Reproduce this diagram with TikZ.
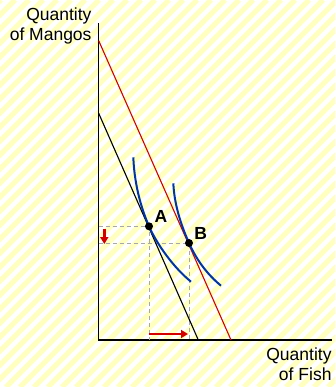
\documentclass[tikz,border=0pt]{standalone}
\usepackage{fontspec}
\setmainfont{Liberation Sans}
\usetikzlibrary{arrows.meta}
\definecolor{stripe}{HTML}{FFFFC0}
\definecolor{icblue}{HTML}{0035A5}
\definecolor{budred}{HTML}{D40000}
\definecolor{dashgray}{HTML}{A8A8A8}
\begin{document}
\begin{tikzpicture}[x=1pt,y=-1pt,
  lbl/.style={font=\fontsize{17.5}{20}\selectfont, inner sep=0pt, anchor=base east},
  ptlbl/.style={font=\fontsize{17.5}{20}\selectfont\bfseries, inner sep=0pt},
  axis/.style={line width=1.4pt, black},
  budget/.style={line width=1.1pt},
  icurve/.style={line width=2pt, icblue},
  guide/.style={line width=0.9pt, dashgray, dash pattern=on 4pt off 3pt},
  movearrow/.style={line width=2.8pt, budred, -{Triangle[length=7pt,width=8pt]}},
  dot/.style={circle, fill=black, inner sep=0pt, minimum size=8pt}]
\useasboundingbox (0,0) rectangle (335,387);
\begin{scope}
\clip (0,0) rectangle (335,387);
\fill[white] (0,0) rectangle (335,387);
\foreach \k in {-400,-386,...,340} {
  \draw[stripe, line width=5pt] (\k,387) -- (\k+387,0);
}
\end{scope}
% coordinates
\coordinate (O) at (98.7,340);
\coordinate (ytop) at (98.7,23.3);
\coordinate (xend) at (331.7,340);
\coordinate (k1) at (98.7,113.3);
\coordinate (k2) at (198.3,340);
\coordinate (r1) at (98.7,40.7);
\coordinate (r2) at (231,340);
\coordinate (yA) at (98.7,226.3);
\coordinate (yB) at (98.7,243);
\coordinate (xA) at (149,340);
\coordinate (xB) at (189,340);
\coordinate (da1) at (104.3,228.5);
\coordinate (da2) at (104.3,244);
\coordinate (ra1) at (149,334);
\coordinate (ra2) at (188,334);
\coordinate (A0) at (149,226.3);
\coordinate (B0) at (189,243);
% axes
\draw[axis] (ytop) -- (O) -- (xend);
% guides
\draw[guide] (yA) -- (A0) -- (xA);
\draw[guide] (yB) -- (B0) -- (xB);
% budget lines
\draw[budget, black] (k1) -- (k2);
\draw[budget, budred] (r1) -- (r2);
% indifference curves
\draw[icurve] (133.3,157.3) .. controls (134.5,188) and (143,212.6) .. (A0)
  .. controls (157,244.5) and (174,268) .. (191,281.7);
\draw[icurve] (173.3,183.3) .. controls (174.5,208) and (183,229.4) .. (B0)
  .. controls (197,261) and (208,275) .. (221,285.7);
% points
\node[dot] (A) at (A0) {};
\node[dot] (B) at (B0) {};
\node[ptlbl] (Alab) at (161,216.5) {A};
\node[ptlbl] (Blab) at (200.8,233.7) {B};
% shift arrows
\draw[movearrow] (da1) -- (da2);
\draw[movearrow] (ra1) -- (ra2);
% axis labels
\node[lbl] (my1) at (91.7,20.7) {Quantity};
\node[lbl] (my2) at (91.7,40.7) {of Mangos};
\node[lbl] (fx1) at (331.7,360) {Quantity};
\node[lbl] (fx2) at (331.7,380.7) {of Fish};
\end{tikzpicture}
\end{document}
